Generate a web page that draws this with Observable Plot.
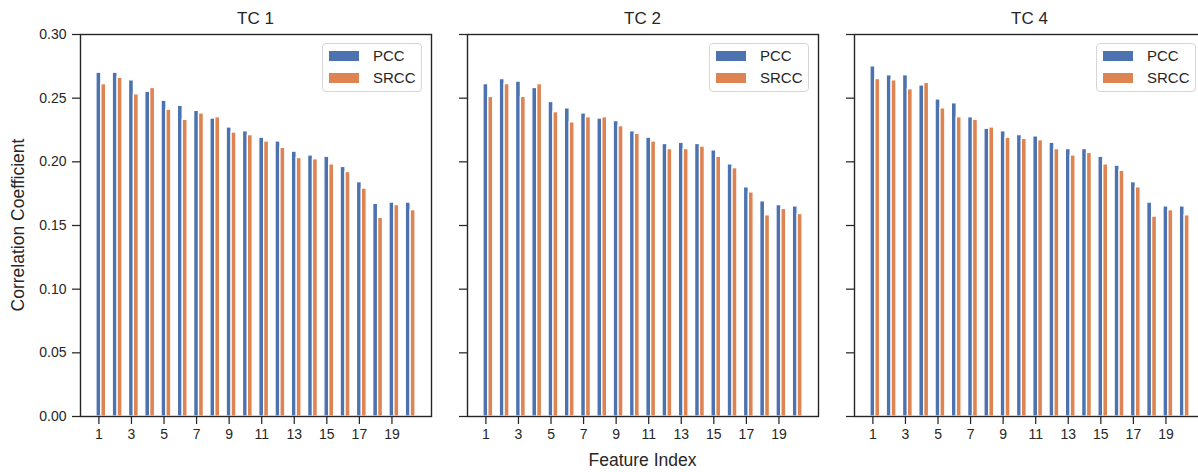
<!DOCTYPE html>
<html>
<head>
<meta charset="utf-8">
<script src="https://cdn.jsdelivr.net/npm/d3@7"></script>
<script src="https://cdn.jsdelivr.net/npm/@observablehq/plot@0.6"></script>
<style>
  html, body { margin: 0; padding: 0; background: white; }
  #chart { position: relative; width: 1198px; height: 472px; overflow: hidden; background: white;
           font-family: "Liberation Sans", Arial, sans-serif; color: #262626; }
  .panel { position: absolute; top: 0; }
  .title { position: absolute; font-size: 17px; transform: translate(-50%, -50%); white-space: nowrap; }
  .xlabel { position: absolute; font-size: 17.5px; transform: translate(-50%, -50%); white-space: nowrap; }
  .ylabel { position: absolute; font-size: 17.5px; transform: translate(-50%, -50%) rotate(-90deg); white-space: nowrap; }
  .legend { position: absolute; width: 100px; height: 49px; box-sizing: border-box; border: 1px solid #d6d6d6;
            border-radius: 4px; background: rgba(255,255,255,0.85); }
  .legend .item { position: absolute; left: 6px; height: 20px; font-size: 15px; line-height: 20px; }
  .legend .sw { position: absolute; left: 0; top: 5px; width: 30px; height: 10px; }
  .legend .lab { position: absolute; left: 44px; top: 0; white-space: nowrap; }
</style>
</head>
<body>
<div id="chart"></div>
<script>
// ---- data ----
const features = d3.range(1, 21);
const panelTitles = ["TC 1", "TC 2", "TC 4"];
const seriesNames = ["PCC", "SRCC"];
const tc1Pcc  = [0.270, 0.270, 0.264, 0.255, 0.248, 0.244, 0.240, 0.234, 0.227, 0.224, 0.219, 0.216, 0.208, 0.205, 0.204, 0.196, 0.184, 0.167, 0.168, 0.168];
const tc1Srcc = [0.261, 0.266, 0.253, 0.258, 0.241, 0.233, 0.238, 0.235, 0.223, 0.221, 0.216, 0.211, 0.203, 0.202, 0.198, 0.192, 0.179, 0.156, 0.166, 0.162];
const tc2Pcc  = [0.261, 0.265, 0.263, 0.258, 0.247, 0.242, 0.238, 0.234, 0.232, 0.224, 0.219, 0.214, 0.215, 0.214, 0.209, 0.198, 0.180, 0.169, 0.166, 0.165];
const tc2Srcc = [0.251, 0.261, 0.251, 0.261, 0.239, 0.231, 0.235, 0.235, 0.228, 0.222, 0.216, 0.210, 0.210, 0.212, 0.204, 0.195, 0.176, 0.158, 0.163, 0.159];
const tc4Pcc  = [0.275, 0.268, 0.268, 0.260, 0.249, 0.246, 0.235, 0.226, 0.224, 0.221, 0.220, 0.215, 0.210, 0.210, 0.204, 0.197, 0.184, 0.168, 0.165, 0.165];
const tc4Srcc = [0.265, 0.264, 0.257, 0.262, 0.242, 0.235, 0.233, 0.227, 0.219, 0.218, 0.217, 0.210, 0.205, 0.207, 0.198, 0.193, 0.180, 0.157, 0.162, 0.158];
const xTicks = [1, 3, 5, 7, 9, 11, 13, 15, 17, 19];
const yTicks = [0, 0.05, 0.10, 0.15, 0.20, 0.25, 0.30];

// ---- style / layout ----
const colors = ["#4C72B0", "#DD8452"];
const ink = "#262626";
const plotW = 351, plotTop = 34, plotBottom = 416, H = 472;
const panelLefts = [80, 467, 854];   // left edge of each plot area
const svgLefts = [0, 440, 826];
const barW = 0.3;

const chart = document.getElementById("chart");
const panels = [[tc1Pcc, tc1Srcc], [tc2Pcc, tc2Srcc], [tc4Pcc, tc4Srcc]];

panels.forEach(([pcc, srcc], i) => {
  const rows = features.map((f, k) => ({f, pcc: pcc[k], srcc: srcc[k]}));
  const mL = panelLefts[i] - svgLefts[i];
  const mR = 10;
  const plot = Plot.plot({
    width: mL + plotW + mR,
    height: H,
    marginLeft: mL,
    marginRight: mR,
    marginTop: plotTop,
    marginBottom: H - plotBottom,
    style: {fontFamily: "'Liberation Sans', Arial, sans-serif", fontSize: "14px", color: ink, background: "transparent", overflow: "visible"},
    x: {type: "linear", domain: [0.85 - 0.98, 20.45 + 0.98]},
    y: {domain: [0, 0.30]},
    marks: [
      Plot.rectY(rows, {x1: d => d.f - barW / 2, x2: d => d.f + barW / 2, y: "pcc", fill: colors[0], stroke: "white", strokeWidth: 1.3}),
      Plot.rectY(rows, {x1: d => d.f + barW / 2, x2: d => d.f + 1.5 * barW, y: "srcc", fill: colors[1], stroke: "white", strokeWidth: 1.3}),
      Plot.axisX({ticks: xTicks, tickSize: 8, tickPadding: 5, strokeWidth: 1.25, label: null, fontSize: 14}),
      Plot.axisY({ticks: yTicks, tickSize: 8, tickPadding: 6, strokeWidth: 1.25, label: null, fontSize: 14,
                  tickFormat: i === 0 ? d3.format(".2f") : () => ""}),
      Plot.frame({stroke: ink, strokeWidth: 1.4})
    ]
  });
  plot.classList.add("panel");
  plot.style.left = svgLefts[i] + "px";
  chart.appendChild(plot);

  // title
  const t = document.createElement("div");
  t.className = "title";
  t.textContent = panelTitles[i];
  t.style.left = (panelLefts[i] + plotW / 2) + "px";
  t.style.top = "19px";
  chart.appendChild(t);

  // legend
  const lg = document.createElement("div");
  lg.className = "legend";
  lg.style.left = (panelLefts[i] + plotW - 9 - 100) + "px";
  lg.style.top = "43px";
  seriesNames.forEach((name, k) => {
    const it = document.createElement("div");
    it.className = "item";
    it.style.top = (k === 0 ? 2 : 24) + "px";
    it.innerHTML = `<span class="sw" style="background:${colors[k]}"></span><span class="lab">${name}</span>`;
    lg.appendChild(it);
  });
  chart.appendChild(lg);
});

const xl = document.createElement("div");
xl.className = "xlabel";
xl.textContent = "Feature Index";
xl.style.left = (panelLefts[1] + plotW / 2) + "px";
xl.style.top = "460px";
chart.appendChild(xl);

const yl = document.createElement("div");
yl.className = "ylabel";
yl.textContent = "Correlation Coefficient";
yl.style.left = "18px";
yl.style.top = ((plotTop + plotBottom) / 2) + "px";
chart.appendChild(yl);
</script>
</body>
</html>
